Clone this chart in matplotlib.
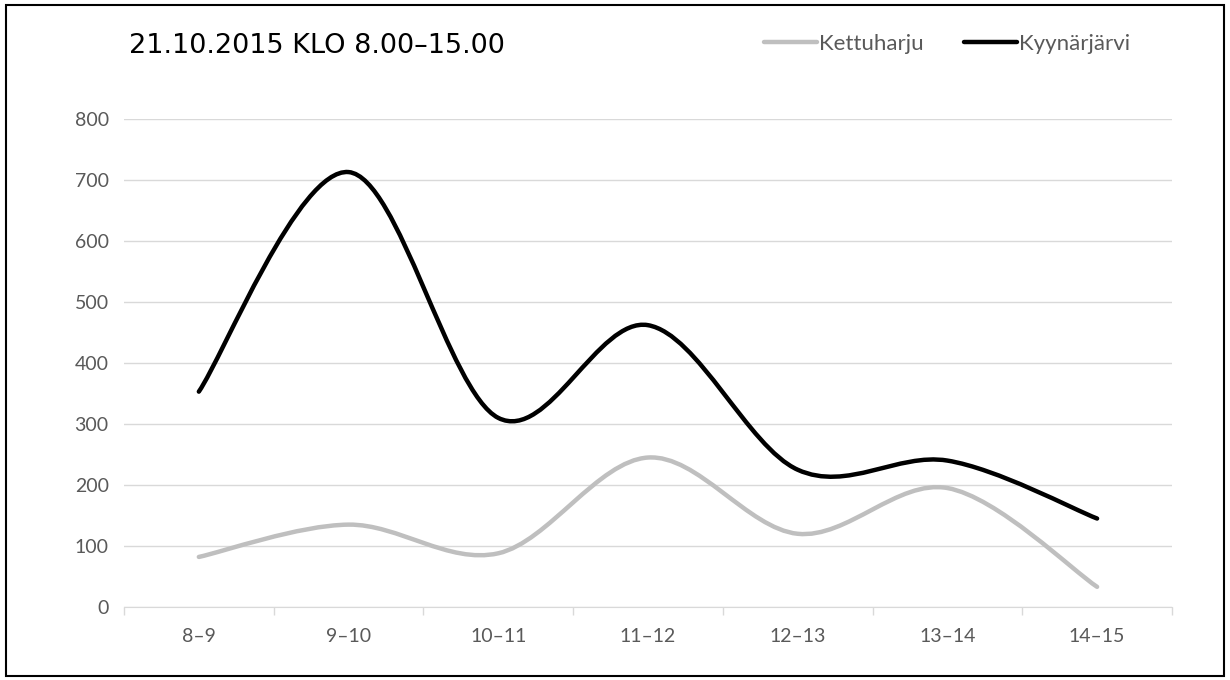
import matplotlib
matplotlib.use('Agg')
import matplotlib.pyplot as plt
from matplotlib.path import Path
from matplotlib.patches import PathPatch, Rectangle
from matplotlib.lines import Line2D
import numpy as np

categories = ['8–9', '9–10', '10–11', '11–12', '12–13', '13–14', '14–15']
kettuharju = [82, 135, 88, 245, 120, 195, 33]
kyynarjarvi = [353, 713, 310, 462, 225, 240, 145]
yticks = [0, 100, 200, 300, 400, 500, 600, 700, 800]
title = '21.10.2015 KLO 8.00–15.00'

label_color = '#595959'


# smooth line like Excel: bezier segments through the points
def smooth_path(ys):
    xs = np.arange(len(ys), dtype=float)
    pts = np.column_stack([xs, np.array(ys, dtype=float)])
    n = len(pts)
    verts = [pts[0]]
    codes = [Path.MOVETO]
    for i in range(n - 1):
        p0 = pts[i - 1] if i > 0 else pts[i]
        p1 = pts[i]
        p2 = pts[i + 1]
        p3 = pts[i + 2] if i + 2 < n else pts[i + 1]
        c1 = p1 + (p2 - p0) / 6
        c2 = p2 - (p3 - p1) / 6
        verts += [c1, c2, p2]
        codes += [Path.CURVE4] * 3
    return Path(verts, codes)


fig = plt.figure(figsize=(12.3, 6.8), dpi=100)
ax = fig.add_axes([0.1008, 0.1074, 0.852, 0.7176])

series = [(kettuharju, '#BFBFBF', 'Kettuharju'), (kyynarjarvi, '#000000', 'Kyynärjärvi')]
for ys, color, name in series:
    patch = PathPatch(smooth_path(ys), facecolor='none', edgecolor=color,
                      lw=3.2, capstyle='round', joinstyle='round', zorder=3)
    ax.add_patch(patch)

ax.set_xlim(-0.5, len(categories) - 0.5)
ax.set_ylim(0, 800)
ax.set_yticks(yticks)
ax.set_yticklabels([str(v) for v in yticks], color=label_color, fontsize=14,
                   family='Lato')
ax.set_xticks(range(len(categories)))
ax.set_xticklabels(categories, color=label_color, fontsize=14, family='Lato')
ax.tick_params(axis='x', length=0, pad=15)
ax.tick_params(axis='y', length=0, pad=11)
# category boundary ticks
ax.set_xticks(np.arange(-0.5, len(categories)), minor=True)
ax.tick_params(axis='x', which='minor', length=6, color='#D9D9D9', width=1)

ax.grid(axis='y', color='#D9D9D9', lw=1)
ax.set_axisbelow(True)
for s in ['top', 'right', 'left']:
    ax.spines[s].set_visible(False)
ax.spines['bottom'].set_color('#D9D9D9')

fig.text(0.105, 0.933, title, fontsize=19.5, color='black', va='center', ha='left',
         family='DejaVu Sans')

handles = [Line2D([], [], color=c, lw=3.2, solid_capstyle='round') for _, c, _ in series]
fig.legend(handles, [n for _, _, n in series], loc='center', bbox_to_anchor=(0.770, 0.935),
           ncol=2, frameon=False, labelcolor=label_color,
           handlelength=2.4, handletextpad=0.08, columnspacing=1.8,
           prop={'family': 'Lato', 'size': 16})

fig.patches.append(Rectangle((0.005, 0.006), 0.99, 0.987, transform=fig.transFigure,
                             fill=False, edgecolor='black', lw=1.5))

fig.savefig('out.png', dpi=100)
